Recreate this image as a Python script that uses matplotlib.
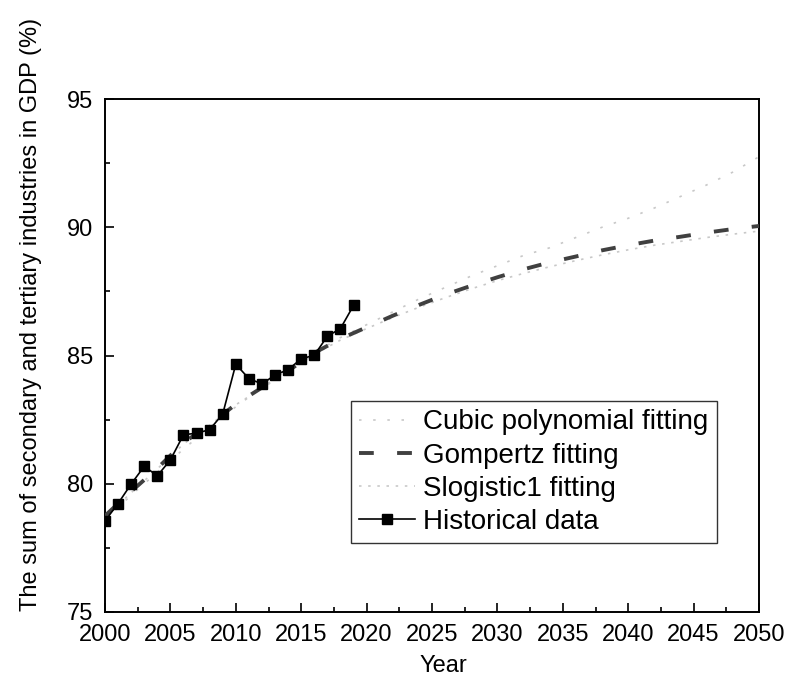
import matplotlib
matplotlib.use("Agg")
import matplotlib.pyplot as plt
from matplotlib.ticker import MultipleLocator

plt.rcParams['font.family'] = ['Liberation Sans', 'DejaVu Sans']

# Historical data
hist_years = [2000, 2001, 2002, 2003, 2004, 2005, 2006, 2007, 2008, 2009,
              2010, 2011, 2012, 2013, 2014, 2015, 2016, 2017, 2018, 2019]
hist_values = [78.55, 79.23, 79.99, 80.68, 80.31, 80.93, 81.91, 81.97, 82.11, 82.72,
               84.66, 84.10, 83.89, 84.24, 84.45, 84.87, 85.01, 85.75, 86.05, 86.95]

# Fitted curves
fit_years = [2000, 2002, 2004, 2006, 2008, 2010, 2012, 2014, 2016, 2018, 2020,
             2022, 2024, 2026, 2028, 2030, 2032, 2034, 2036, 2038, 2040,
             2042, 2044, 2046, 2048, 2050]
gompertz = [78.75, 79.70, 80.60, 81.60, 82.30, 83.10, 83.75, 84.40, 85.10, 85.65, 86.10,
            86.55, 86.97, 87.37, 87.72, 88.05, 88.36, 88.63, 88.86, 89.10, 89.30,
            89.48, 89.63, 89.79, 89.93, 90.05]
cubic = [78.60, 79.55, 80.45, 81.35, 82.20, 83.00, 83.75, 84.45, 85.10, 85.70, 86.20,
         86.70, 87.20, 87.65, 88.10, 88.50, 88.90, 89.20, 89.60, 90.00, 90.35,
         90.75, 91.20, 91.65, 92.15, 92.75]
slogistic = [78.70, 79.65, 80.58, 81.55, 82.28, 83.08, 83.72, 84.37, 85.05, 85.60, 86.05,
             86.48, 86.88, 87.25, 87.60, 87.92, 88.20, 88.46, 88.70, 88.92, 89.12,
             89.30, 89.45, 89.60, 89.73, 89.85]

W, H = 788, 684
fig = plt.figure(figsize=(W / 100, H / 100), dpi=100)
ax = fig.add_axes([105 / W, (H - 612) / H, 654 / W, 513 / H])

ax.plot(fit_years, cubic, color='#c8c8c8', lw=1.2, ls=(0, (1.5, 7)),
        label='Cubic polynomial fitting', zorder=2)
ax.plot(fit_years, gompertz, color='#404040', lw=2.8, ls=(0, (3.8, 6)),
        label='Gompertz fitting', zorder=3)
ax.plot(fit_years, slogistic, color='#c8c8c8', lw=1.2, ls=(0, (1.5, 4)),
        label='Slogistic1 fitting', zorder=2)
ax.plot(hist_years, hist_values, color='black', lw=1.2, marker='s', ms=6.5,
        label='Historical data', zorder=4)

ax.set_xlim(2000, 2050)
ax.set_ylim(75, 95)
ax.xaxis.set_major_locator(MultipleLocator(5))
ax.xaxis.set_minor_locator(MultipleLocator(2.5))
ax.yaxis.set_major_locator(MultipleLocator(5))
ax.yaxis.set_minor_locator(MultipleLocator(2.5))
ax.tick_params(which='both', direction='in', top=False, right=False,
               labelsize=17, width=1.2)
ax.tick_params(axis='x', which='both', pad=8.5)
ax.tick_params(axis='y', which='both', pad=8.5)
ax.tick_params(which='major', length=6.5)
ax.tick_params(which='minor', length=3.8)
for s in ax.spines.values():
    s.set_linewidth(1.4)

ax.set_xlabel('Year', fontsize=17, va='top')
ax.xaxis.set_label_coords((443 - 105) / 654, (612 - 655) / 513)
ax.set_ylabel('The sum of secondary and tertiary industries in GDP (%)', fontsize=17)
ax.yaxis.set_label_coords((42 - 105) / 654, (612 - 314) / 513)

leg = ax.legend(loc='upper left', bbox_to_anchor=((351 - 105) / 654, (612 - 401) / 513),
                borderaxespad=0, fontsize=20, frameon=True, fancybox=False,
                edgecolor='black', handlelength=2.0, handletextpad=0.3,
                labelspacing=0.26, borderpad=0.3)
leg.get_frame().set_linewidth(1.0)

fig.savefig('out.png', dpi=100)
